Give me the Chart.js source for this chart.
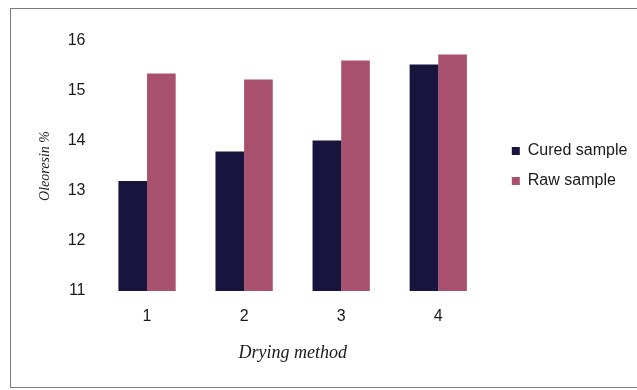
<!doctype html>
<html lang="en">
<head>
<meta charset="utf-8">
<title>Oleoresin by drying method</title>
<script src="https://cdn.jsdelivr.net/npm/chart.js"></script>
<style>
  html, body { margin: 0; padding: 0; background: #fff; }
  #wrap { position: relative; width: 637px; height: 390px; overflow: hidden; }
  #frame { position: absolute; left: 10px; top: 8px; width: 660px; height: 380px; border: 1px solid #7a7a7a; box-sizing: border-box; }
  canvas { position: absolute; left: 0; top: 0; }
</style>
</head>
<body>
<div id="wrap">
  <div id="frame"></div>
  <canvas id="chart" width="637" height="390"></canvas>
</div>
<script>
  // values
  const methods = ['1', '2', '3', '4'];
  const curedSample = [13.2, 13.79, 14.01, 15.53];
  const rawSample = [15.35, 15.23, 15.61, 15.73];
  const yMin = 11;
  const yMax = 16;

  const plotLeft = 98.5;
  const plotRight = 486.8;

  // legend items sit a bit further from the plot than chart.js puts them
  const legendNudge = {
    id: 'legendNudge',
    afterLayout(chart) {
      const lg = chart.legend;
      if (lg) {
        lg.left += 11;
        lg.right += 11;
      }
    }
  };

  const chart = new Chart(document.getElementById('chart'), {
    type: 'bar',
    data: {
      labels: methods,
      datasets: [{
        label: 'Cured sample',
        data: curedSample,
        backgroundColor: '#17143e',
        borderWidth: 0
      }, {
        label: 'Raw sample',
        data: rawSample,
        backgroundColor: '#a8506e',
        borderWidth: 0
      }]
    },
    options: {
      responsive: false,
      animation: false,
      devicePixelRatio: 1,
      datasets: {
        bar: { categoryPercentage: 0.59, barPercentage: 1 }
      },
      layout: {
        padding: { left: 24, top: 41, bottom: 0, right: 0 }
      },
      scales: {
        x: {
          grid: { display: false, drawTicks: false },
          border: { display: false },
          ticks: {
            padding: 16,
            color: '#1a1a1a',
            font: { family: 'Liberation Sans', size: 16 }
          },
          title: {
            display: true,
            text: 'Drying method',
            color: '#1a1a1a',
            padding: { top: 0, bottom: 26 },
            font: { family: 'Liberation Serif', size: 18, style: 'italic' }
          },
          afterFit(scale) { scale.height = 99; }
        },
        y: {
          min: yMin,
          max: yMax,
          grid: { display: false, drawTicks: false },
          border: { display: false },
          ticks: {
            stepSize: 1,
            padding: 13,
            color: '#1a1a1a',
            font: { family: 'Liberation Sans', size: 16 }
          },
          title: {
            display: true,
            text: 'Oleoresin %',
            color: '#1a1a1a',
            padding: { top: 12.6, bottom: 0 },
            font: { family: 'Liberation Serif', size: 14, style: 'italic' }
          },
          afterFit(scale) { scale.width = plotLeft - 24; }
        }
      },
      plugins: {
        tooltip: { enabled: false },
        legend: {
          position: 'right',
          fullSize: false,
          align: 'center',
          labels: {
            boxWidth: 8,
            boxHeight: 8,
            padding: 14,
            color: '#1a1a1a',
            font: { family: 'Liberation Sans', size: 16 }
          }
        }
      }
    },
    plugins: [legendNudge]
  });

  // second pass so the plot ends where the original one does
  chart.options.layout.padding.right = Math.max(0, 637 - plotRight - chart.legend.width);
  chart.update('none');
</script>
</body>
</html>
